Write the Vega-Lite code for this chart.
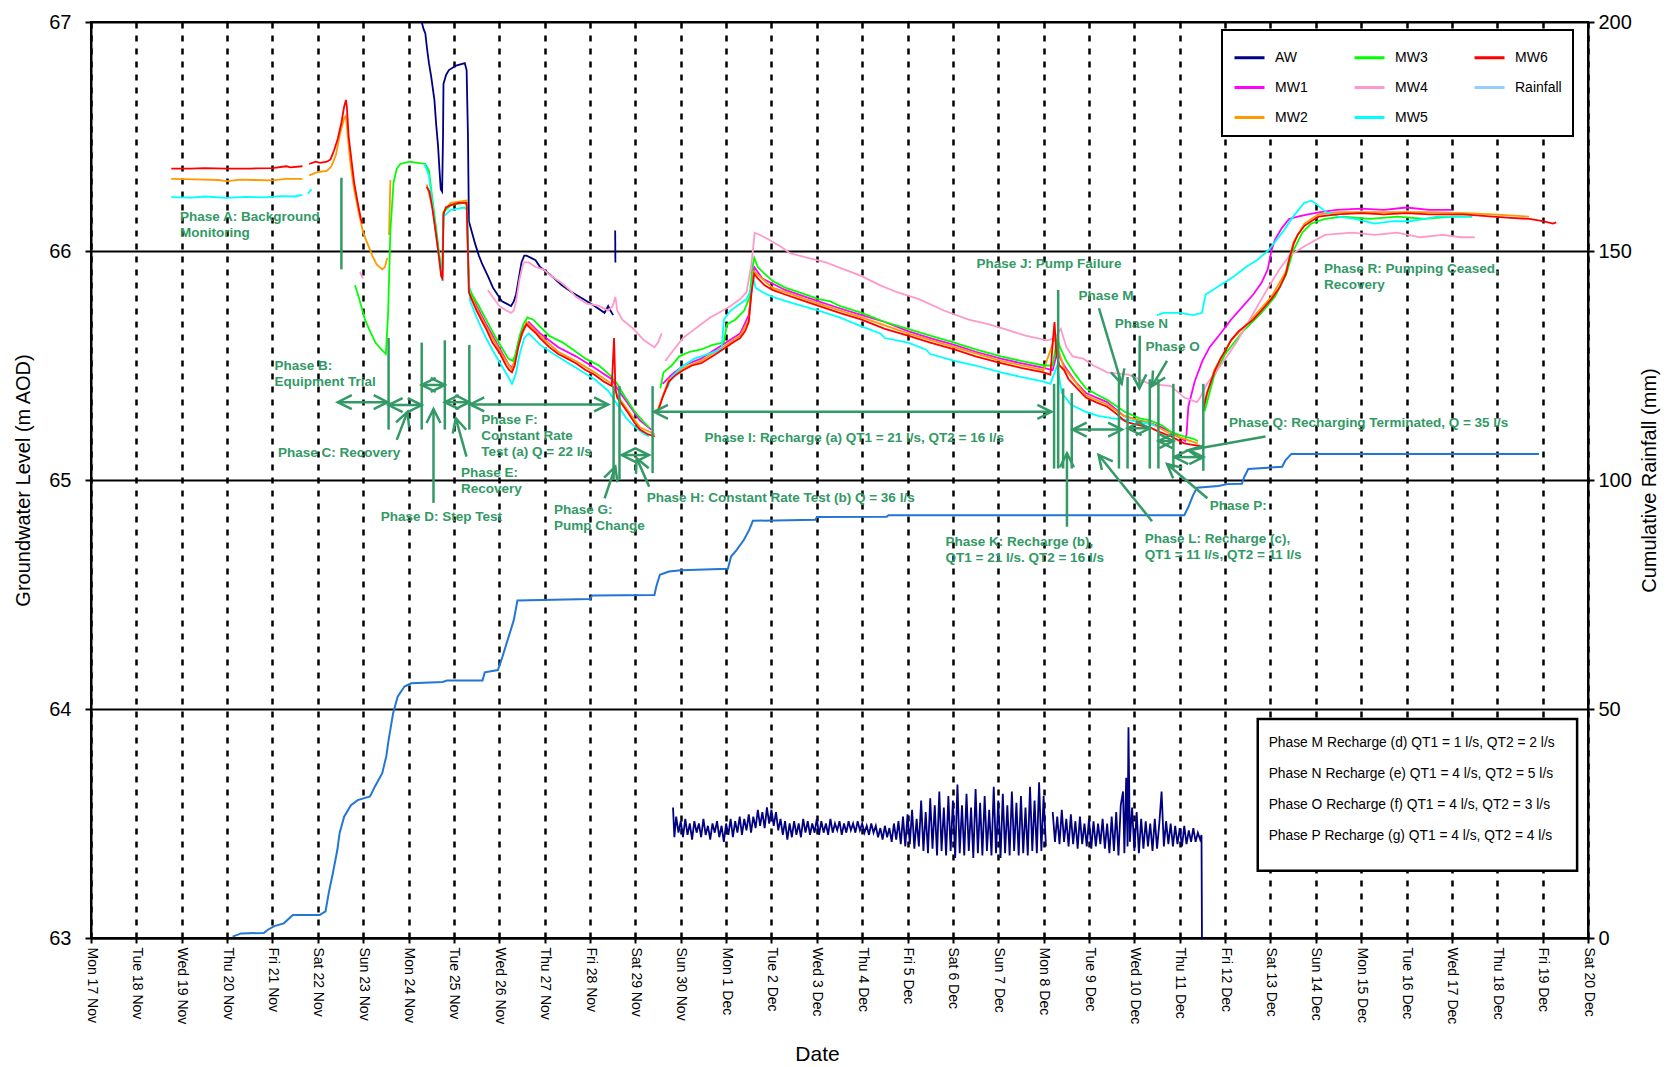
{
  "$schema": "https://vega.github.io/schema/vega-lite/v6.json",
  "width": 1497,
  "height": 916,
  "autosize": {"type": "none"},
  "padding": {"left": 91, "top": 22, "right": 83, "bottom": 129},
  "background": "white",
  "config": {
    "font": "Liberation Sans",
    "view": {"stroke": "black", "strokeWidth": 2},
    "axis": {
      "domainColor": "black", "domainWidth": 2, "tickColor": "black", "tickWidth": 2,
      "labelColor": "black", "titleColor": "black", "titleFontWeight": "normal",
      "labelFont": "Liberation Sans", "titleFont": "Liberation Sans",
      "labelFlush": false, "labelOverlap": false
    },
    "legend": {"strokeWidth": 2}
  },
  "datasets": {
    "rain": [
      {"day": 3.12, "mm": 0.3}, {"day": 3.31, "mm": 1.0}, {"day": 3.81, "mm": 1.1}, {"day": 3.9, "mm": 1.8},
      {"day": 4.04, "mm": 2.6}, {"day": 4.25, "mm": 3.2}, {"day": 4.45, "mm": 5.0}, {"day": 5.04, "mm": 5.0},
      {"day": 5.17, "mm": 5.8}, {"day": 5.24, "mm": 9.8}, {"day": 5.33, "mm": 14.1}, {"day": 5.43, "mm": 19.2},
      {"day": 5.48, "mm": 22.9}, {"day": 5.58, "mm": 26.5}, {"day": 5.73, "mm": 29.0}, {"day": 5.88, "mm": 30.1},
      {"day": 6.15, "mm": 30.9}, {"day": 6.26, "mm": 33.1}, {"day": 6.42, "mm": 36.0}, {"day": 6.51, "mm": 39.7},
      {"day": 6.56, "mm": 43.2}, {"day": 6.66, "mm": 49.1}, {"day": 6.76, "mm": 52.7}, {"day": 6.91, "mm": 54.9},
      {"day": 7.06, "mm": 55.6}, {"day": 7.75, "mm": 55.9}, {"day": 7.85, "mm": 56.2}, {"day": 8.63, "mm": 56.2},
      {"day": 8.68, "mm": 58.0}, {"day": 8.97, "mm": 58.5}, {"day": 9.07, "mm": 61.4}, {"day": 9.16, "mm": 64.3},
      {"day": 9.32, "mm": 69.4}, {"day": 9.4, "mm": 73.7}, {"day": 11.0, "mm": 74.0}, {"day": 11.05, "mm": 74.8},
      {"day": 12.42, "mm": 74.9}, {"day": 12.46, "mm": 76.7}, {"day": 12.54, "mm": 79.3}, {"day": 12.74, "mm": 80.0},
      {"day": 13.01, "mm": 80.3}, {"day": 14.04, "mm": 80.6}, {"day": 14.11, "mm": 83.3}, {"day": 14.23, "mm": 84.7},
      {"day": 14.39, "mm": 86.9}, {"day": 14.51, "mm": 89.1}, {"day": 14.59, "mm": 91.1}, {"day": 15.97, "mm": 91.3},
      {"day": 16.0, "mm": 91.9}, {"day": 17.54, "mm": 92.0}, {"day": 17.58, "mm": 92.3}, {"day": 24.1, "mm": 92.3},
      {"day": 24.19, "mm": 94.1}, {"day": 24.29, "mm": 96.6}, {"day": 24.38, "mm": 98.3}, {"day": 24.85, "mm": 98.7},
      {"day": 25.05, "mm": 99.1}, {"day": 25.37, "mm": 99.2}, {"day": 25.42, "mm": 100.6}, {"day": 25.51, "mm": 102.4},
      {"day": 26.26, "mm": 102.9}, {"day": 26.33, "mm": 104.3}, {"day": 26.46, "mm": 105.7}, {"day": 31.92, "mm": 105.7}
    ],
    "wells": [
      {"s": "AW", "g": 1, "day": 7.29, "v": 67.0}, {"s": "AW", "g": 1, "day": 7.33, "v": 66.97}, {"s": "AW", "g": 1, "day": 7.37, "v": 66.95},
      {"s": "AW", "g": 1, "day": 7.41, "v": 66.88}, {"s": "AW", "g": 1, "day": 7.45, "v": 66.82}, {"s": "AW", "g": 1, "day": 7.5, "v": 66.76},
      {"s": "AW", "g": 1, "day": 7.57, "v": 66.66}, {"s": "AW", "g": 1, "day": 7.61, "v": 66.55}, {"s": "AW", "g": 1, "day": 7.65, "v": 66.46},
      {"s": "AW", "g": 1, "day": 7.68, "v": 66.36}, {"s": "AW", "g": 1, "day": 7.71, "v": 66.27}, {"s": "AW", "g": 1, "day": 7.74, "v": 66.26},
      {"s": "AW", "g": 1, "day": 7.76, "v": 66.5}, {"s": "AW", "g": 1, "day": 7.77, "v": 66.73}, {"s": "AW", "g": 1, "day": 7.83, "v": 66.77},
      {"s": "AW", "g": 1, "day": 7.89, "v": 66.79}, {"s": "AW", "g": 1, "day": 8.05, "v": 66.81}, {"s": "AW", "g": 1, "day": 8.24, "v": 66.82},
      {"s": "AW", "g": 1, "day": 8.28, "v": 66.79}, {"s": "AW", "g": 1, "day": 8.31, "v": 66.5}, {"s": "AW", "g": 1, "day": 8.33, "v": 66.13},
      {"s": "AW", "g": 1, "day": 8.4, "v": 66.08}, {"s": "AW", "g": 1, "day": 8.47, "v": 66.03}, {"s": "AW", "g": 1, "day": 8.55, "v": 65.98},
      {"s": "AW", "g": 1, "day": 8.63, "v": 65.94}, {"s": "AW", "g": 1, "day": 8.75, "v": 65.89}, {"s": "AW", "g": 1, "day": 8.86, "v": 65.84},
      {"s": "AW", "g": 1, "day": 8.96, "v": 65.81}, {"s": "AW", "g": 1, "day": 9.06, "v": 65.78}, {"s": "AW", "g": 1, "day": 9.16, "v": 65.77},
      {"s": "AW", "g": 1, "day": 9.26, "v": 65.76}, {"s": "AW", "g": 1, "day": 9.32, "v": 65.78}, {"s": "AW", "g": 1, "day": 9.37, "v": 65.81},
      {"s": "AW", "g": 1, "day": 9.43, "v": 65.88}, {"s": "AW", "g": 1, "day": 9.49, "v": 65.95}, {"s": "AW", "g": 1, "day": 9.55, "v": 65.98},
      {"s": "AW", "g": 1, "day": 9.6, "v": 65.98}, {"s": "AW", "g": 1, "day": 9.7, "v": 65.97}, {"s": "AW", "g": 1, "day": 9.8, "v": 65.96},
      {"s": "AW", "g": 1, "day": 9.9, "v": 65.93}, {"s": "AW", "g": 1, "day": 10.1, "v": 65.9}, {"s": "AW", "g": 1, "day": 10.38, "v": 65.85},
      {"s": "AW", "g": 1, "day": 10.6, "v": 65.82}, {"s": "AW", "g": 1, "day": 10.85, "v": 65.79}, {"s": "AW", "g": 1, "day": 11.1, "v": 65.76},
      {"s": "AW", "g": 1, "day": 11.32, "v": 65.73}, {"s": "AW", "g": 1, "day": 11.4, "v": 65.76}, {"s": "AW", "g": 1, "day": 11.45, "v": 65.74},
      {"s": "AW", "g": 1, "day": 11.51, "v": 65.72},
      {"s": "AW", "g": 2, "day": 11.555, "v": 66.09}, {"s": "AW", "g": 2, "day": 11.56, "v": 65.95},
      {"s": "AW", "g": 3, "day": 12.83, "v": 63.57}, {"s": "AW", "g": 3, "day": 12.86, "v": 63.44}, {"s": "AW", "g": 3, "day": 12.9, "v": 63.53},
      {"s": "AW", "g": 3, "day": 12.95, "v": 63.46}, {"s": "AW", "g": 3, "day": 13.0, "v": 63.51}, {"s": "AW", "g": 3, "day": 13.05, "v": 63.44},
      {"s": "AW", "g": 3, "day": 13.1, "v": 63.52}, {"s": "AW", "g": 3, "day": 13.15, "v": 63.45}, {"s": "AW", "g": 3, "day": 13.2, "v": 63.5},
      {"s": "AW", "g": 3, "day": 13.25, "v": 63.43}, {"s": "AW", "g": 3, "day": 13.3, "v": 63.51}, {"s": "AW", "g": 3, "day": 13.35, "v": 63.46},
      {"s": "AW", "g": 3, "day": 13.4, "v": 63.5}, {"s": "AW", "g": 3, "day": 13.45, "v": 63.44}, {"s": "AW", "g": 3, "day": 13.5, "v": 63.52},
      {"s": "AW", "g": 3, "day": 13.55, "v": 63.45}, {"s": "AW", "g": 3, "day": 13.6, "v": 63.49}, {"s": "AW", "g": 3, "day": 13.65, "v": 63.43},
      {"s": "AW", "g": 3, "day": 13.7, "v": 63.5}, {"s": "AW", "g": 3, "day": 13.75, "v": 63.46}, {"s": "AW", "g": 3, "day": 13.8, "v": 63.51},
      {"s": "AW", "g": 3, "day": 13.85, "v": 63.44}, {"s": "AW", "g": 3, "day": 13.9, "v": 63.49}, {"s": "AW", "g": 3, "day": 13.95, "v": 63.42},
      {"s": "AW", "g": 3, "day": 14.0, "v": 63.5}, {"s": "AW", "g": 3, "day": 14.05, "v": 63.45}, {"s": "AW", "g": 3, "day": 14.1, "v": 63.52},
      {"s": "AW", "g": 3, "day": 14.15, "v": 63.44}, {"s": "AW", "g": 3, "day": 14.2, "v": 63.51}, {"s": "AW", "g": 3, "day": 14.25, "v": 63.46},
      {"s": "AW", "g": 3, "day": 14.3, "v": 63.53}, {"s": "AW", "g": 3, "day": 14.35, "v": 63.45}, {"s": "AW", "g": 3, "day": 14.4, "v": 63.52},
      {"s": "AW", "g": 3, "day": 14.45, "v": 63.47}, {"s": "AW", "g": 3, "day": 14.5, "v": 63.54}, {"s": "AW", "g": 3, "day": 14.55, "v": 63.46},
      {"s": "AW", "g": 3, "day": 14.6, "v": 63.53}, {"s": "AW", "g": 3, "day": 14.65, "v": 63.48}, {"s": "AW", "g": 3, "day": 14.7, "v": 63.56},
      {"s": "AW", "g": 3, "day": 14.75, "v": 63.49}, {"s": "AW", "g": 3, "day": 14.8, "v": 63.55}, {"s": "AW", "g": 3, "day": 14.85, "v": 63.48},
      {"s": "AW", "g": 3, "day": 14.9, "v": 63.57}, {"s": "AW", "g": 3, "day": 14.95, "v": 63.5}, {"s": "AW", "g": 3, "day": 15.0, "v": 63.56},
      {"s": "AW", "g": 3, "day": 15.05, "v": 63.49}, {"s": "AW", "g": 3, "day": 15.1, "v": 63.55}, {"s": "AW", "g": 3, "day": 15.15, "v": 63.47},
      {"s": "AW", "g": 3, "day": 15.2, "v": 63.52}, {"s": "AW", "g": 3, "day": 15.25, "v": 63.45}, {"s": "AW", "g": 3, "day": 15.3, "v": 63.51},
      {"s": "AW", "g": 3, "day": 15.35, "v": 63.43}, {"s": "AW", "g": 3, "day": 15.4, "v": 63.5}, {"s": "AW", "g": 3, "day": 15.45, "v": 63.44},
      {"s": "AW", "g": 3, "day": 15.5, "v": 63.51}, {"s": "AW", "g": 3, "day": 15.55, "v": 63.45}, {"s": "AW", "g": 3, "day": 15.6, "v": 63.5},
      {"s": "AW", "g": 3, "day": 15.65, "v": 63.44}, {"s": "AW", "g": 3, "day": 15.7, "v": 63.52}, {"s": "AW", "g": 3, "day": 15.75, "v": 63.46},
      {"s": "AW", "g": 3, "day": 15.8, "v": 63.51}, {"s": "AW", "g": 3, "day": 15.85, "v": 63.45}, {"s": "AW", "g": 3, "day": 15.9, "v": 63.5},
      {"s": "AW", "g": 3, "day": 15.95, "v": 63.46}, {"s": "AW", "g": 3, "day": 16.0, "v": 63.52}, {"s": "AW", "g": 3, "day": 16.05, "v": 63.45},
      {"s": "AW", "g": 3, "day": 16.1, "v": 63.51}, {"s": "AW", "g": 3, "day": 16.15, "v": 63.46}, {"s": "AW", "g": 3, "day": 16.2, "v": 63.5},
      {"s": "AW", "g": 3, "day": 16.25, "v": 63.45}, {"s": "AW", "g": 3, "day": 16.3, "v": 63.52}, {"s": "AW", "g": 3, "day": 16.35, "v": 63.46},
      {"s": "AW", "g": 3, "day": 16.4, "v": 63.5}, {"s": "AW", "g": 3, "day": 16.45, "v": 63.47}, {"s": "AW", "g": 3, "day": 16.5, "v": 63.51},
      {"s": "AW", "g": 3, "day": 16.55, "v": 63.45}, {"s": "AW", "g": 3, "day": 16.6, "v": 63.5}, {"s": "AW", "g": 3, "day": 16.65, "v": 63.46},
      {"s": "AW", "g": 3, "day": 16.7, "v": 63.51}, {"s": "AW", "g": 3, "day": 16.75, "v": 63.47}, {"s": "AW", "g": 3, "day": 16.8, "v": 63.5},
      {"s": "AW", "g": 3, "day": 16.85, "v": 63.46}, {"s": "AW", "g": 3, "day": 16.9, "v": 63.51}, {"s": "AW", "g": 3, "day": 16.95, "v": 63.47},
      {"s": "AW", "g": 3, "day": 17.0, "v": 63.5}, {"s": "AW", "g": 3, "day": 17.05, "v": 63.46}, {"s": "AW", "g": 3, "day": 17.1, "v": 63.49},
      {"s": "AW", "g": 3, "day": 17.15, "v": 63.45}, {"s": "AW", "g": 3, "day": 17.2, "v": 63.5}, {"s": "AW", "g": 3, "day": 17.25, "v": 63.46},
      {"s": "AW", "g": 3, "day": 17.3, "v": 63.49}, {"s": "AW", "g": 3, "day": 17.35, "v": 63.44}, {"s": "AW", "g": 3, "day": 17.4, "v": 63.48},
      {"s": "AW", "g": 3, "day": 17.45, "v": 63.43}, {"s": "AW", "g": 3, "day": 17.5, "v": 63.49}, {"s": "AW", "g": 3, "day": 17.55, "v": 63.44},
      {"s": "AW", "g": 3, "day": 17.6, "v": 63.48}, {"s": "AW", "g": 3, "day": 17.65, "v": 63.42}, {"s": "AW", "g": 3, "day": 17.7, "v": 63.5},
      {"s": "AW", "g": 3, "day": 17.75, "v": 63.43}, {"s": "AW", "g": 3, "day": 17.8, "v": 63.51}, {"s": "AW", "g": 3, "day": 17.85, "v": 63.41},
      {"s": "AW", "g": 3, "day": 17.9, "v": 63.53}, {"s": "AW", "g": 3, "day": 17.95, "v": 63.4}, {"s": "AW", "g": 3, "day": 18.0, "v": 63.54},
      {"s": "AW", "g": 3, "day": 18.05, "v": 63.41}, {"s": "AW", "g": 3, "day": 18.1, "v": 63.56}, {"s": "AW", "g": 3, "day": 18.15, "v": 63.39},
      {"s": "AW", "g": 3, "day": 18.2, "v": 63.52}, {"s": "AW", "g": 3, "day": 18.25, "v": 63.4}, {"s": "AW", "g": 3, "day": 18.3, "v": 63.6},
      {"s": "AW", "g": 3, "day": 18.35, "v": 63.38}, {"s": "AW", "g": 3, "day": 18.4, "v": 63.55}, {"s": "AW", "g": 3, "day": 18.45, "v": 63.37},
      {"s": "AW", "g": 3, "day": 18.5, "v": 63.61}, {"s": "AW", "g": 3, "day": 18.55, "v": 63.39}, {"s": "AW", "g": 3, "day": 18.6, "v": 63.58},
      {"s": "AW", "g": 3, "day": 18.65, "v": 63.36}, {"s": "AW", "g": 3, "day": 18.7, "v": 63.64}, {"s": "AW", "g": 3, "day": 18.75, "v": 63.38},
      {"s": "AW", "g": 3, "day": 18.8, "v": 63.57}, {"s": "AW", "g": 3, "day": 18.85, "v": 63.36}, {"s": "AW", "g": 3, "day": 18.9, "v": 63.62},
      {"s": "AW", "g": 3, "day": 18.95, "v": 63.38}, {"s": "AW", "g": 3, "day": 19.0, "v": 63.6}, {"s": "AW", "g": 3, "day": 19.05, "v": 63.35},
      {"s": "AW", "g": 3, "day": 19.1, "v": 63.67}, {"s": "AW", "g": 3, "day": 19.15, "v": 63.37}, {"s": "AW", "g": 3, "day": 19.2, "v": 63.58},
      {"s": "AW", "g": 3, "day": 19.25, "v": 63.36}, {"s": "AW", "g": 3, "day": 19.3, "v": 63.63}, {"s": "AW", "g": 3, "day": 19.35, "v": 63.38},
      {"s": "AW", "g": 3, "day": 19.4, "v": 63.57}, {"s": "AW", "g": 3, "day": 19.45, "v": 63.35}, {"s": "AW", "g": 3, "day": 19.5, "v": 63.65},
      {"s": "AW", "g": 3, "day": 19.55, "v": 63.37}, {"s": "AW", "g": 3, "day": 19.6, "v": 63.59}, {"s": "AW", "g": 3, "day": 19.65, "v": 63.36},
      {"s": "AW", "g": 3, "day": 19.7, "v": 63.62}, {"s": "AW", "g": 3, "day": 19.75, "v": 63.38}, {"s": "AW", "g": 3, "day": 19.8, "v": 63.56},
      {"s": "AW", "g": 3, "day": 19.85, "v": 63.36}, {"s": "AW", "g": 3, "day": 19.9, "v": 63.66}, {"s": "AW", "g": 3, "day": 19.95, "v": 63.37},
      {"s": "AW", "g": 3, "day": 20.0, "v": 63.6}, {"s": "AW", "g": 3, "day": 20.05, "v": 63.35}, {"s": "AW", "g": 3, "day": 20.1, "v": 63.63},
      {"s": "AW", "g": 3, "day": 20.15, "v": 63.37}, {"s": "AW", "g": 3, "day": 20.2, "v": 63.58}, {"s": "AW", "g": 3, "day": 20.25, "v": 63.36},
      {"s": "AW", "g": 3, "day": 20.3, "v": 63.64}, {"s": "AW", "g": 3, "day": 20.35, "v": 63.38}, {"s": "AW", "g": 3, "day": 20.4, "v": 63.59},
      {"s": "AW", "g": 3, "day": 20.45, "v": 63.36}, {"s": "AW", "g": 3, "day": 20.5, "v": 63.62}, {"s": "AW", "g": 3, "day": 20.55, "v": 63.37},
      {"s": "AW", "g": 3, "day": 20.6, "v": 63.57}, {"s": "AW", "g": 3, "day": 20.65, "v": 63.36}, {"s": "AW", "g": 3, "day": 20.7, "v": 63.66},
      {"s": "AW", "g": 3, "day": 20.75, "v": 63.38}, {"s": "AW", "g": 3, "day": 20.8, "v": 63.6}, {"s": "AW", "g": 3, "day": 20.85, "v": 63.37},
      {"s": "AW", "g": 3, "day": 20.9, "v": 63.68}, {"s": "AW", "g": 3, "day": 20.95, "v": 63.38}, {"s": "AW", "g": 3, "day": 21.0, "v": 63.62},
      {"s": "AW", "g": 3, "day": 21.05, "v": 63.4},
      {"s": "AW", "g": 4, "day": 21.2, "v": 63.55}, {"s": "AW", "g": 4, "day": 21.25, "v": 63.42}, {"s": "AW", "g": 4, "day": 21.3, "v": 63.53},
      {"s": "AW", "g": 4, "day": 21.35, "v": 63.41}, {"s": "AW", "g": 4, "day": 21.4, "v": 63.56}, {"s": "AW", "g": 4, "day": 21.45, "v": 63.42},
      {"s": "AW", "g": 4, "day": 21.5, "v": 63.52}, {"s": "AW", "g": 4, "day": 21.55, "v": 63.4}, {"s": "AW", "g": 4, "day": 21.6, "v": 63.54},
      {"s": "AW", "g": 4, "day": 21.65, "v": 63.41}, {"s": "AW", "g": 4, "day": 21.7, "v": 63.51}, {"s": "AW", "g": 4, "day": 21.75, "v": 63.39},
      {"s": "AW", "g": 4, "day": 21.8, "v": 63.53}, {"s": "AW", "g": 4, "day": 21.85, "v": 63.41}, {"s": "AW", "g": 4, "day": 21.9, "v": 63.5},
      {"s": "AW", "g": 4, "day": 21.95, "v": 63.4}, {"s": "AW", "g": 4, "day": 22.0, "v": 63.52}, {"s": "AW", "g": 4, "day": 22.05, "v": 63.39},
      {"s": "AW", "g": 4, "day": 22.1, "v": 63.51}, {"s": "AW", "g": 4, "day": 22.15, "v": 63.4}, {"s": "AW", "g": 4, "day": 22.2, "v": 63.5},
      {"s": "AW", "g": 4, "day": 22.25, "v": 63.41}, {"s": "AW", "g": 4, "day": 22.3, "v": 63.52}, {"s": "AW", "g": 4, "day": 22.35, "v": 63.39},
      {"s": "AW", "g": 4, "day": 22.4, "v": 63.5}, {"s": "AW", "g": 4, "day": 22.45, "v": 63.37}, {"s": "AW", "g": 4, "day": 22.5, "v": 63.53},
      {"s": "AW", "g": 4, "day": 22.55, "v": 63.38}, {"s": "AW", "g": 4, "day": 22.6, "v": 63.55}, {"s": "AW", "g": 4, "day": 22.65, "v": 63.36},
      {"s": "AW", "g": 4, "day": 22.7, "v": 63.58}, {"s": "AW", "g": 4, "day": 22.75, "v": 63.64}, {"s": "AW", "g": 4, "day": 22.78, "v": 63.37},
      {"s": "AW", "g": 4, "day": 22.82, "v": 63.7}, {"s": "AW", "g": 4, "day": 22.85, "v": 63.4}, {"s": "AW", "g": 4, "day": 22.87, "v": 63.92},
      {"s": "AW", "g": 4, "day": 22.9, "v": 63.42}, {"s": "AW", "g": 4, "day": 22.95, "v": 63.57}, {"s": "AW", "g": 4, "day": 23.0, "v": 63.38},
      {"s": "AW", "g": 4, "day": 23.05, "v": 63.55}, {"s": "AW", "g": 4, "day": 23.1, "v": 63.37}, {"s": "AW", "g": 4, "day": 23.15, "v": 63.52},
      {"s": "AW", "g": 4, "day": 23.2, "v": 63.39}, {"s": "AW", "g": 4, "day": 23.25, "v": 63.51}, {"s": "AW", "g": 4, "day": 23.3, "v": 63.4},
      {"s": "AW", "g": 4, "day": 23.35, "v": 63.5}, {"s": "AW", "g": 4, "day": 23.4, "v": 63.38}, {"s": "AW", "g": 4, "day": 23.45, "v": 63.52},
      {"s": "AW", "g": 4, "day": 23.5, "v": 63.39}, {"s": "AW", "g": 4, "day": 23.55, "v": 63.5}, {"s": "AW", "g": 4, "day": 23.6, "v": 63.64},
      {"s": "AW", "g": 4, "day": 23.65, "v": 63.4}, {"s": "AW", "g": 4, "day": 23.7, "v": 63.51}, {"s": "AW", "g": 4, "day": 23.75, "v": 63.41},
      {"s": "AW", "g": 4, "day": 23.8, "v": 63.5}, {"s": "AW", "g": 4, "day": 23.85, "v": 63.4}, {"s": "AW", "g": 4, "day": 23.9, "v": 63.49},
      {"s": "AW", "g": 4, "day": 23.95, "v": 63.41}, {"s": "AW", "g": 4, "day": 24.0, "v": 63.48}, {"s": "AW", "g": 4, "day": 24.05, "v": 63.4},
      {"s": "AW", "g": 4, "day": 24.1, "v": 63.49}, {"s": "AW", "g": 4, "day": 24.15, "v": 63.41}, {"s": "AW", "g": 4, "day": 24.2, "v": 63.47},
      {"s": "AW", "g": 4, "day": 24.25, "v": 63.42}, {"s": "AW", "g": 4, "day": 24.3, "v": 63.48}, {"s": "AW", "g": 4, "day": 24.35, "v": 63.42},
      {"s": "AW", "g": 4, "day": 24.4, "v": 63.46}, {"s": "AW", "g": 4, "day": 24.45, "v": 63.43}, {"s": "AW", "g": 4, "day": 24.48, "v": 63.45},
      {"s": "AW", "g": 4, "day": 24.49, "v": 63.0},

      {"s": "MW1", "g": 1, "day": 8.35, "v": 65.83}, {"s": "MW1", "g": 1, "day": 8.5, "v": 65.76}, {"s": "MW1", "g": 1, "day": 8.71, "v": 65.68},
      {"s": "MW1", "g": 1, "day": 9.02, "v": 65.57}, {"s": "MW1", "g": 1, "day": 9.22, "v": 65.5}, {"s": "MW1", "g": 1, "day": 9.3, "v": 65.49},
      {"s": "MW1", "g": 1, "day": 9.42, "v": 65.6}, {"s": "MW1", "g": 1, "day": 9.55, "v": 65.67}, {"s": "MW1", "g": 1, "day": 9.65, "v": 65.69},
      {"s": "MW1", "g": 1, "day": 9.9, "v": 65.64}, {"s": "MW1", "g": 1, "day": 10.3, "v": 65.58}, {"s": "MW1", "g": 1, "day": 10.69, "v": 65.54},
      {"s": "MW1", "g": 1, "day": 11.1, "v": 65.49}, {"s": "MW1", "g": 1, "day": 11.48, "v": 65.44}, {"s": "MW1", "g": 1, "day": 11.6, "v": 65.4},
      {"s": "MW1", "g": 1, "day": 11.85, "v": 65.33}, {"s": "MW1", "g": 1, "day": 12.1, "v": 65.26}, {"s": "MW1", "g": 1, "day": 12.35, "v": 65.22},
      {"s": "MW1", "g": 2, "day": 12.6, "v": 65.42}, {"s": "MW1", "g": 2, "day": 12.8, "v": 65.46}, {"s": "MW1", "g": 2, "day": 13.06, "v": 65.5},
      {"s": "MW1", "g": 2, "day": 13.45, "v": 65.53}, {"s": "MW1", "g": 2, "day": 14.0, "v": 65.6}, {"s": "MW1", "g": 2, "day": 14.31, "v": 65.64},
      {"s": "MW1", "g": 2, "day": 14.5, "v": 65.72}, {"s": "MW1", "g": 2, "day": 14.58, "v": 65.86}, {"s": "MW1", "g": 2, "day": 14.62, "v": 65.93},
      {"s": "MW1", "g": 2, "day": 14.8, "v": 65.88}, {"s": "MW1", "g": 2, "day": 15.3, "v": 65.83}, {"s": "MW1", "g": 2, "day": 16.04, "v": 65.78},
      {"s": "MW1", "g": 2, "day": 16.5, "v": 65.75}, {"s": "MW1", "g": 2, "day": 16.99, "v": 65.72}, {"s": "MW1", "g": 2, "day": 17.5, "v": 65.69},
      {"s": "MW1", "g": 2, "day": 18.01, "v": 65.65}, {"s": "MW1", "g": 2, "day": 18.5, "v": 65.62}, {"s": "MW1", "g": 2, "day": 19.03, "v": 65.59},
      {"s": "MW1", "g": 2, "day": 19.5, "v": 65.56}, {"s": "MW1", "g": 2, "day": 20.06, "v": 65.53}, {"s": "MW1", "g": 2, "day": 20.5, "v": 65.51},
      {"s": "MW1", "g": 2, "day": 21.0, "v": 65.49}, {"s": "MW1", "g": 2, "day": 21.2, "v": 65.48}, {"s": "MW1", "g": 2, "day": 21.3, "v": 65.56},
      {"s": "MW1", "g": 2, "day": 21.45, "v": 65.5}, {"s": "MW1", "g": 2, "day": 21.7, "v": 65.43}, {"s": "MW1", "g": 2, "day": 21.93, "v": 65.38},
      {"s": "MW1", "g": 2, "day": 22.4, "v": 65.34}, {"s": "MW1", "g": 2, "day": 22.77, "v": 65.28}, {"s": "MW1", "g": 2, "day": 23.1, "v": 65.26},
      {"s": "MW1", "g": 2, "day": 23.34, "v": 65.25}, {"s": "MW1", "g": 2, "day": 23.6, "v": 65.23}, {"s": "MW1", "g": 2, "day": 23.81, "v": 65.21},
      {"s": "MW1", "g": 2, "day": 24.05, "v": 65.18}, {"s": "MW1", "g": 2, "day": 24.12, "v": 65.17}, {"s": "MW1", "g": 2, "day": 24.15, "v": 65.2},
      {"s": "MW1", "g": 2, "day": 24.19, "v": 65.32}, {"s": "MW1", "g": 2, "day": 24.33, "v": 65.43}, {"s": "MW1", "g": 2, "day": 24.5, "v": 65.52},
      {"s": "MW1", "g": 2, "day": 24.66, "v": 65.58}, {"s": "MW1", "g": 2, "day": 24.9, "v": 65.64}, {"s": "MW1", "g": 2, "day": 25.13, "v": 65.7},
      {"s": "MW1", "g": 2, "day": 25.4, "v": 65.76}, {"s": "MW1", "g": 2, "day": 25.62, "v": 65.81}, {"s": "MW1", "g": 2, "day": 25.8, "v": 65.86},
      {"s": "MW1", "g": 2, "day": 25.94, "v": 65.92}, {"s": "MW1", "g": 2, "day": 26.02, "v": 66.0}, {"s": "MW1", "g": 2, "day": 26.1, "v": 66.05},
      {"s": "MW1", "g": 2, "day": 26.25, "v": 66.1}, {"s": "MW1", "g": 2, "day": 26.41, "v": 66.14}, {"s": "MW1", "g": 2, "day": 26.6, "v": 66.15},
      {"s": "MW1", "g": 2, "day": 26.83, "v": 66.16}, {"s": "MW1", "g": 2, "day": 27.1, "v": 66.17}, {"s": "MW1", "g": 2, "day": 27.46, "v": 66.18},
      {"s": "MW1", "g": 2, "day": 28.0, "v": 66.185}, {"s": "MW1", "g": 2, "day": 28.5, "v": 66.18}, {"s": "MW1", "g": 2, "day": 29.0, "v": 66.19},
      {"s": "MW1", "g": 2, "day": 29.5, "v": 66.18}, {"s": "MW1", "g": 2, "day": 29.99, "v": 66.18},

      {"s": "MW2", "g": 1, "day": 1.77, "v": 66.315}, {"s": "MW2", "g": 1, "day": 2.3, "v": 66.313}, {"s": "MW2", "g": 1, "day": 2.8, "v": 66.31},
      {"s": "MW2", "g": 1, "day": 3.0, "v": 66.305}, {"s": "MW2", "g": 1, "day": 3.3, "v": 66.312}, {"s": "MW2", "g": 1, "day": 3.6, "v": 66.31},
      {"s": "MW2", "g": 1, "day": 4.0, "v": 66.308}, {"s": "MW2", "g": 1, "day": 4.3, "v": 66.315}, {"s": "MW2", "g": 1, "day": 4.66, "v": 66.315},
      {"s": "MW2", "g": 2, "day": 4.81, "v": 66.33}, {"s": "MW2", "g": 2, "day": 5.0, "v": 66.345}, {"s": "MW2", "g": 2, "day": 5.2, "v": 66.35},
      {"s": "MW2", "g": 2, "day": 5.3, "v": 66.37}, {"s": "MW2", "g": 2, "day": 5.4, "v": 66.42}, {"s": "MW2", "g": 2, "day": 5.5, "v": 66.52},
      {"s": "MW2", "g": 2, "day": 5.58, "v": 66.58}, {"s": "MW2", "g": 2, "day": 5.62, "v": 66.59}, {"s": "MW2", "g": 2, "day": 5.66, "v": 66.5},
      {"s": "MW2", "g": 2, "day": 5.72, "v": 66.38}, {"s": "MW2", "g": 2, "day": 5.8, "v": 66.27}, {"s": "MW2", "g": 2, "day": 5.9, "v": 66.17},
      {"s": "MW2", "g": 2, "day": 6.0, "v": 66.08}, {"s": "MW2", "g": 2, "day": 6.1, "v": 66.03}, {"s": "MW2", "g": 2, "day": 6.2, "v": 65.98},
      {"s": "MW2", "g": 2, "day": 6.3, "v": 65.94}, {"s": "MW2", "g": 2, "day": 6.42, "v": 65.92}, {"s": "MW2", "g": 2, "day": 6.48, "v": 65.93},
      {"s": "MW2", "g": 2, "day": 6.53, "v": 65.97},
      {"s": "MW2", "g": 3, "day": 6.57, "v": 66.07}, {"s": "MW2", "g": 3, "day": 6.6, "v": 66.31},
      {"s": "MW2", "g": 4, "day": 7.4, "v": 66.29}, {"s": "MW2", "g": 4, "day": 7.53, "v": 66.19}, {"s": "MW2", "g": 4, "day": 7.66, "v": 66.0},
      {"s": "MW2", "g": 4, "day": 7.75, "v": 65.89}, {"s": "MW2", "g": 4, "day": 7.77, "v": 66.17}, {"s": "MW2", "g": 4, "day": 7.93, "v": 66.21},
      {"s": "MW2", "g": 4, "day": 8.28, "v": 66.22}, {"s": "MW2", "g": 4, "day": 8.33, "v": 65.83}, {"s": "MW2", "g": 4, "day": 8.5, "v": 65.75},
      {"s": "MW2", "g": 4, "day": 8.71, "v": 65.67}, {"s": "MW2", "g": 4, "day": 9.02, "v": 65.56}, {"s": "MW2", "g": 4, "day": 9.28, "v": 65.48},
      {"s": "MW2", "g": 4, "day": 9.42, "v": 65.59}, {"s": "MW2", "g": 4, "day": 9.6, "v": 65.69}, {"s": "MW2", "g": 4, "day": 9.9, "v": 65.63},
      {"s": "MW2", "g": 4, "day": 10.3, "v": 65.56}, {"s": "MW2", "g": 4, "day": 10.69, "v": 65.52}, {"s": "MW2", "g": 4, "day": 11.1, "v": 65.47},
      {"s": "MW2", "g": 4, "day": 11.48, "v": 65.42}, {"s": "MW2", "g": 4, "day": 11.6, "v": 65.37}, {"s": "MW2", "g": 4, "day": 11.85, "v": 65.3},
      {"s": "MW2", "g": 4, "day": 12.1, "v": 65.23}, {"s": "MW2", "g": 4, "day": 12.43, "v": 65.2},
      {"s": "MW2", "g": 5, "day": 12.5, "v": 65.31}, {"s": "MW2", "g": 5, "day": 12.74, "v": 65.44}, {"s": "MW2", "g": 5, "day": 13.06, "v": 65.49},
      {"s": "MW2", "g": 5, "day": 13.45, "v": 65.52}, {"s": "MW2", "g": 5, "day": 14.0, "v": 65.59}, {"s": "MW2", "g": 5, "day": 14.31, "v": 65.63},
      {"s": "MW2", "g": 5, "day": 14.5, "v": 65.7}, {"s": "MW2", "g": 5, "day": 14.56, "v": 65.83}, {"s": "MW2", "g": 5, "day": 14.62, "v": 65.91},
      {"s": "MW2", "g": 5, "day": 15.02, "v": 65.84}, {"s": "MW2", "g": 5, "day": 16.04, "v": 65.77}, {"s": "MW2", "g": 5, "day": 16.99, "v": 65.71},
      {"s": "MW2", "g": 5, "day": 18.01, "v": 65.64}, {"s": "MW2", "g": 5, "day": 19.03, "v": 65.58}, {"s": "MW2", "g": 5, "day": 20.06, "v": 65.52},
      {"s": "MW2", "g": 5, "day": 21.0, "v": 65.48}, {"s": "MW2", "g": 5, "day": 21.24, "v": 65.62}, {"s": "MW2", "g": 5, "day": 21.45, "v": 65.49},
      {"s": "MW2", "g": 5, "day": 21.93, "v": 65.37}, {"s": "MW2", "g": 5, "day": 22.4, "v": 65.33}, {"s": "MW2", "g": 5, "day": 22.77, "v": 65.28},
      {"s": "MW2", "g": 5, "day": 23.1, "v": 65.26}, {"s": "MW2", "g": 5, "day": 23.34, "v": 65.25}, {"s": "MW2", "g": 5, "day": 23.81, "v": 65.2},
      {"s": "MW2", "g": 5, "day": 24.1, "v": 65.18}, {"s": "MW2", "g": 5, "day": 24.4, "v": 65.16},
      {"s": "MW2", "g": 6, "day": 24.52, "v": 65.31}, {"s": "MW2", "g": 6, "day": 24.76, "v": 65.48}, {"s": "MW2", "g": 6, "day": 25.13, "v": 65.61},
      {"s": "MW2", "g": 6, "day": 25.62, "v": 65.71}, {"s": "MW2", "g": 6, "day": 26.02, "v": 65.8}, {"s": "MW2", "g": 6, "day": 26.34, "v": 65.91},
      {"s": "MW2", "g": 6, "day": 26.51, "v": 66.04}, {"s": "MW2", "g": 6, "day": 26.75, "v": 66.12}, {"s": "MW2", "g": 6, "day": 27.06, "v": 66.16},
      {"s": "MW2", "g": 6, "day": 27.5, "v": 66.17}, {"s": "MW2", "g": 6, "day": 28.5, "v": 66.17}, {"s": "MW2", "g": 6, "day": 29.5, "v": 66.17},
      {"s": "MW2", "g": 6, "day": 30.3, "v": 66.165}, {"s": "MW2", "g": 6, "day": 30.9, "v": 66.16}, {"s": "MW2", "g": 6, "day": 31.7, "v": 66.15},

      {"s": "MW3", "g": 1, "day": 5.82, "v": 65.85}, {"s": "MW3", "g": 1, "day": 5.9, "v": 65.8}, {"s": "MW3", "g": 1, "day": 6.04, "v": 65.7},
      {"s": "MW3", "g": 1, "day": 6.15, "v": 65.65}, {"s": "MW3", "g": 1, "day": 6.27, "v": 65.6}, {"s": "MW3", "g": 1, "day": 6.4, "v": 65.57},
      {"s": "MW3", "g": 1, "day": 6.5, "v": 65.55}, {"s": "MW3", "g": 1, "day": 6.55, "v": 65.73}, {"s": "MW3", "g": 1, "day": 6.6, "v": 66.09},
      {"s": "MW3", "g": 1, "day": 6.67, "v": 66.3}, {"s": "MW3", "g": 1, "day": 6.74, "v": 66.36}, {"s": "MW3", "g": 1, "day": 6.82, "v": 66.38},
      {"s": "MW3", "g": 1, "day": 7.02, "v": 66.39}, {"s": "MW3", "g": 1, "day": 7.2, "v": 66.385}, {"s": "MW3", "g": 1, "day": 7.37, "v": 66.38},
      {"s": "MW3", "g": 1, "day": 7.45, "v": 66.35}, {"s": "MW3", "g": 1, "day": 7.53, "v": 66.22}, {"s": "MW3", "g": 1, "day": 7.62, "v": 66.08},
      {"s": "MW3", "g": 1, "day": 7.69, "v": 65.96}, {"s": "MW3", "g": 1, "day": 7.74, "v": 65.88}, {"s": "MW3", "g": 1, "day": 7.77, "v": 66.17},
      {"s": "MW3", "g": 1, "day": 7.93, "v": 66.2}, {"s": "MW3", "g": 1, "day": 8.23, "v": 66.21}, {"s": "MW3", "g": 1, "day": 8.29, "v": 66.2},
      {"s": "MW3", "g": 1, "day": 8.31, "v": 65.98}, {"s": "MW3", "g": 1, "day": 8.34, "v": 65.84}, {"s": "MW3", "g": 1, "day": 8.4, "v": 65.81},
      {"s": "MW3", "g": 1, "day": 8.55, "v": 65.76}, {"s": "MW3", "g": 1, "day": 8.71, "v": 65.7}, {"s": "MW3", "g": 1, "day": 8.9, "v": 65.63},
      {"s": "MW3", "g": 1, "day": 9.05, "v": 65.58}, {"s": "MW3", "g": 1, "day": 9.2, "v": 65.53}, {"s": "MW3", "g": 1, "day": 9.3, "v": 65.52},
      {"s": "MW3", "g": 1, "day": 9.36, "v": 65.55}, {"s": "MW3", "g": 1, "day": 9.45, "v": 65.63}, {"s": "MW3", "g": 1, "day": 9.53, "v": 65.68},
      {"s": "MW3", "g": 1, "day": 9.62, "v": 65.71}, {"s": "MW3", "g": 1, "day": 9.75, "v": 65.7}, {"s": "MW3", "g": 1, "day": 9.9, "v": 65.67},
      {"s": "MW3", "g": 1, "day": 10.1, "v": 65.63}, {"s": "MW3", "g": 1, "day": 10.4, "v": 65.6}, {"s": "MW3", "g": 1, "day": 10.69, "v": 65.56},
      {"s": "MW3", "g": 1, "day": 10.9, "v": 65.53}, {"s": "MW3", "g": 1, "day": 11.2, "v": 65.5}, {"s": "MW3", "g": 1, "day": 11.48, "v": 65.45},
      {"s": "MW3", "g": 1, "day": 11.6, "v": 65.42}, {"s": "MW3", "g": 1, "day": 11.75, "v": 65.37}, {"s": "MW3", "g": 1, "day": 11.98, "v": 65.3},
      {"s": "MW3", "g": 1, "day": 12.2, "v": 65.25}, {"s": "MW3", "g": 1, "day": 12.3, "v": 65.23},
      {"s": "MW3", "g": 2, "day": 12.55, "v": 65.4}, {"s": "MW3", "g": 2, "day": 12.62, "v": 65.47}, {"s": "MW3", "g": 2, "day": 12.8, "v": 65.5},
      {"s": "MW3", "g": 2, "day": 12.97, "v": 65.54}, {"s": "MW3", "g": 2, "day": 13.2, "v": 65.56}, {"s": "MW3", "g": 2, "day": 13.45, "v": 65.57},
      {"s": "MW3", "g": 2, "day": 13.7, "v": 65.59}, {"s": "MW3", "g": 2, "day": 13.95, "v": 65.6}, {"s": "MW3", "g": 2, "day": 14.02, "v": 65.68},
      {"s": "MW3", "g": 2, "day": 14.2, "v": 65.7}, {"s": "MW3", "g": 2, "day": 14.4, "v": 65.74}, {"s": "MW3", "g": 2, "day": 14.52, "v": 65.8},
      {"s": "MW3", "g": 2, "day": 14.58, "v": 65.93}, {"s": "MW3", "g": 2, "day": 14.62, "v": 65.97}, {"s": "MW3", "g": 2, "day": 14.7, "v": 65.93},
      {"s": "MW3", "g": 2, "day": 14.85, "v": 65.9}, {"s": "MW3", "g": 2, "day": 15.02, "v": 65.87}, {"s": "MW3", "g": 2, "day": 15.3, "v": 65.84},
      {"s": "MW3", "g": 2, "day": 15.6, "v": 65.82}, {"s": "MW3", "g": 2, "day": 16.04, "v": 65.79}, {"s": "MW3", "g": 2, "day": 16.3, "v": 65.78},
      {"s": "MW3", "g": 2, "day": 16.5, "v": 65.76}, {"s": "MW3", "g": 2, "day": 16.99, "v": 65.73}, {"s": "MW3", "g": 2, "day": 17.5, "v": 65.69},
      {"s": "MW3", "g": 2, "day": 18.01, "v": 65.66}, {"s": "MW3", "g": 2, "day": 18.5, "v": 65.63}, {"s": "MW3", "g": 2, "day": 19.03, "v": 65.6},
      {"s": "MW3", "g": 2, "day": 19.5, "v": 65.57}, {"s": "MW3", "g": 2, "day": 20.06, "v": 65.54}, {"s": "MW3", "g": 2, "day": 20.5, "v": 65.52},
      {"s": "MW3", "g": 2, "day": 21.0, "v": 65.5}, {"s": "MW3", "g": 2, "day": 21.2, "v": 65.5}, {"s": "MW3", "g": 2, "day": 21.3, "v": 65.62},
      {"s": "MW3", "g": 2, "day": 21.36, "v": 65.58}, {"s": "MW3", "g": 2, "day": 21.5, "v": 65.52}, {"s": "MW3", "g": 2, "day": 21.7, "v": 65.46},
      {"s": "MW3", "g": 2, "day": 21.93, "v": 65.4}, {"s": "MW3", "g": 2, "day": 22.2, "v": 65.37}, {"s": "MW3", "g": 2, "day": 22.4, "v": 65.35},
      {"s": "MW3", "g": 2, "day": 22.77, "v": 65.3}, {"s": "MW3", "g": 2, "day": 23.1, "v": 65.27}, {"s": "MW3", "g": 2, "day": 23.34, "v": 65.26},
      {"s": "MW3", "g": 2, "day": 23.6, "v": 65.24}, {"s": "MW3", "g": 2, "day": 23.81, "v": 65.21}, {"s": "MW3", "g": 2, "day": 24.1, "v": 65.19},
      {"s": "MW3", "g": 2, "day": 24.3, "v": 65.18}, {"s": "MW3", "g": 2, "day": 24.4, "v": 65.17},
      {"s": "MW3", "g": 3, "day": 24.55, "v": 65.3}, {"s": "MW3", "g": 3, "day": 24.75, "v": 65.45}, {"s": "MW3", "g": 3, "day": 25.0, "v": 65.55},
      {"s": "MW3", "g": 3, "day": 25.4, "v": 65.65}, {"s": "MW3", "g": 3, "day": 25.8, "v": 65.73}, {"s": "MW3", "g": 3, "day": 26.1, "v": 65.8},
      {"s": "MW3", "g": 3, "day": 26.35, "v": 65.9}, {"s": "MW3", "g": 3, "day": 26.5, "v": 66.0}, {"s": "MW3", "g": 3, "day": 26.7, "v": 66.08},
      {"s": "MW3", "g": 3, "day": 26.9, "v": 66.12}, {"s": "MW3", "g": 3, "day": 27.2, "v": 66.14}, {"s": "MW3", "g": 3, "day": 27.6, "v": 66.15},
      {"s": "MW3", "g": 3, "day": 28.2, "v": 66.14}, {"s": "MW3", "g": 3, "day": 28.8, "v": 66.15}, {"s": "MW3", "g": 3, "day": 29.4, "v": 66.14},
      {"s": "MW3", "g": 3, "day": 30.0, "v": 66.15}, {"s": "MW3", "g": 3, "day": 30.45, "v": 66.15},

      {"s": "MW4", "g": 1, "day": 5.93, "v": 65.91}, {"s": "MW4", "g": 1, "day": 5.97, "v": 65.89}, {"s": "MW4", "g": 1, "day": 6.0, "v": 65.88},
      {"s": "MW4", "g": 2, "day": 8.75, "v": 65.83}, {"s": "MW4", "g": 2, "day": 8.85, "v": 65.8}, {"s": "MW4", "g": 2, "day": 9.0, "v": 65.76},
      {"s": "MW4", "g": 2, "day": 9.15, "v": 65.74}, {"s": "MW4", "g": 2, "day": 9.26, "v": 65.73}, {"s": "MW4", "g": 2, "day": 9.32, "v": 65.74},
      {"s": "MW4", "g": 2, "day": 9.37, "v": 65.78}, {"s": "MW4", "g": 2, "day": 9.45, "v": 65.88}, {"s": "MW4", "g": 2, "day": 9.53, "v": 65.95},
      {"s": "MW4", "g": 2, "day": 9.65, "v": 65.95}, {"s": "MW4", "g": 2, "day": 9.8, "v": 65.93}, {"s": "MW4", "g": 2, "day": 9.97, "v": 65.92},
      {"s": "MW4", "g": 2, "day": 10.15, "v": 65.89}, {"s": "MW4", "g": 2, "day": 10.38, "v": 65.86}, {"s": "MW4", "g": 2, "day": 10.55, "v": 65.83},
      {"s": "MW4", "g": 2, "day": 10.69, "v": 65.8}, {"s": "MW4", "g": 2, "day": 10.93, "v": 65.77}, {"s": "MW4", "g": 2, "day": 11.2, "v": 65.76},
      {"s": "MW4", "g": 2, "day": 11.4, "v": 65.74}, {"s": "MW4", "g": 2, "day": 11.5, "v": 65.76}, {"s": "MW4", "g": 2, "day": 11.56, "v": 65.8},
      {"s": "MW4", "g": 2, "day": 11.6, "v": 65.74}, {"s": "MW4", "g": 2, "day": 11.71, "v": 65.7}, {"s": "MW4", "g": 2, "day": 11.96, "v": 65.66},
      {"s": "MW4", "g": 2, "day": 12.19, "v": 65.61}, {"s": "MW4", "g": 2, "day": 12.42, "v": 65.58}, {"s": "MW4", "g": 2, "day": 12.5, "v": 65.6},
      {"s": "MW4", "g": 2, "day": 12.58, "v": 65.64},
      {"s": "MW4", "g": 3, "day": 12.66, "v": 65.52}, {"s": "MW4", "g": 3, "day": 12.85, "v": 65.57}, {"s": "MW4", "g": 3, "day": 13.05, "v": 65.62},
      {"s": "MW4", "g": 3, "day": 13.25, "v": 65.65}, {"s": "MW4", "g": 3, "day": 13.45, "v": 65.68}, {"s": "MW4", "g": 3, "day": 13.65, "v": 65.71},
      {"s": "MW4", "g": 3, "day": 13.84, "v": 65.73}, {"s": "MW4", "g": 3, "day": 14.1, "v": 65.76}, {"s": "MW4", "g": 3, "day": 14.31, "v": 65.79},
      {"s": "MW4", "g": 3, "day": 14.45, "v": 65.82}, {"s": "MW4", "g": 3, "day": 14.55, "v": 65.93}, {"s": "MW4", "g": 3, "day": 14.6, "v": 66.02},
      {"s": "MW4", "g": 3, "day": 14.63, "v": 66.08}, {"s": "MW4", "g": 3, "day": 14.75, "v": 66.07}, {"s": "MW4", "g": 3, "day": 14.94, "v": 66.05},
      {"s": "MW4", "g": 3, "day": 15.2, "v": 66.02}, {"s": "MW4", "g": 3, "day": 15.41, "v": 65.99}, {"s": "MW4", "g": 3, "day": 15.8, "v": 65.97},
      {"s": "MW4", "g": 3, "day": 16.2, "v": 65.95}, {"s": "MW4", "g": 3, "day": 16.6, "v": 65.92}, {"s": "MW4", "g": 3, "day": 16.99, "v": 65.89},
      {"s": "MW4", "g": 3, "day": 17.4, "v": 65.85}, {"s": "MW4", "g": 3, "day": 17.77, "v": 65.82}, {"s": "MW4", "g": 3, "day": 18.25, "v": 65.79},
      {"s": "MW4", "g": 3, "day": 18.8, "v": 65.74}, {"s": "MW4", "g": 3, "day": 19.35, "v": 65.7}, {"s": "MW4", "g": 3, "day": 19.8, "v": 65.68},
      {"s": "MW4", "g": 3, "day": 20.13, "v": 65.66}, {"s": "MW4", "g": 3, "day": 20.6, "v": 65.63}, {"s": "MW4", "g": 3, "day": 21.08, "v": 65.61},
      {"s": "MW4", "g": 3, "day": 21.25, "v": 65.62}, {"s": "MW4", "g": 3, "day": 21.38, "v": 65.66}, {"s": "MW4", "g": 3, "day": 21.5, "v": 65.58},
      {"s": "MW4", "g": 3, "day": 21.64, "v": 65.54}, {"s": "MW4", "g": 3, "day": 21.87, "v": 65.53}, {"s": "MW4", "g": 3, "day": 22.1, "v": 65.5},
      {"s": "MW4", "g": 3, "day": 22.4, "v": 65.47}, {"s": "MW4", "g": 3, "day": 22.87, "v": 65.46}, {"s": "MW4", "g": 3, "day": 23.34, "v": 65.42},
      {"s": "MW4", "g": 3, "day": 23.81, "v": 65.41}, {"s": "MW4", "g": 3, "day": 24.1, "v": 65.36}, {"s": "MW4", "g": 3, "day": 24.38, "v": 65.34},
      {"s": "MW4", "g": 3, "day": 24.45, "v": 65.36}, {"s": "MW4", "g": 3, "day": 24.6, "v": 65.42}, {"s": "MW4", "g": 3, "day": 24.9, "v": 65.5},
      {"s": "MW4", "g": 3, "day": 25.25, "v": 65.6}, {"s": "MW4", "g": 3, "day": 25.6, "v": 65.72}, {"s": "MW4", "g": 3, "day": 25.95, "v": 65.84},
      {"s": "MW4", "g": 3, "day": 26.2, "v": 65.92}, {"s": "MW4", "g": 3, "day": 26.42, "v": 65.98}, {"s": "MW4", "g": 3, "day": 26.74, "v": 66.02},
      {"s": "MW4", "g": 3, "day": 27.2, "v": 66.07}, {"s": "MW4", "g": 3, "day": 27.8, "v": 66.08}, {"s": "MW4", "g": 3, "day": 28.3, "v": 66.07},
      {"s": "MW4", "g": 3, "day": 28.8, "v": 66.08}, {"s": "MW4", "g": 3, "day": 29.3, "v": 66.06}, {"s": "MW4", "g": 3, "day": 29.8, "v": 66.07},
      {"s": "MW4", "g": 3, "day": 30.2, "v": 66.06}, {"s": "MW4", "g": 3, "day": 30.5, "v": 66.06},

      {"s": "MW5", "g": 1, "day": 1.77, "v": 66.235}, {"s": "MW5", "g": 1, "day": 2.2, "v": 66.233}, {"s": "MW5", "g": 1, "day": 2.5, "v": 66.238},
      {"s": "MW5", "g": 1, "day": 3.0, "v": 66.232}, {"s": "MW5", "g": 1, "day": 3.4, "v": 66.236}, {"s": "MW5", "g": 1, "day": 3.8, "v": 66.234},
      {"s": "MW5", "g": 1, "day": 4.2, "v": 66.24}, {"s": "MW5", "g": 1, "day": 4.5, "v": 66.238}, {"s": "MW5", "g": 1, "day": 4.66, "v": 66.245},
      {"s": "MW5", "g": 2, "day": 4.78, "v": 66.25}, {"s": "MW5", "g": 2, "day": 4.86, "v": 66.27},
      {"s": "MW5", "g": 3, "day": 7.35, "v": 66.38}, {"s": "MW5", "g": 3, "day": 7.45, "v": 66.33}, {"s": "MW5", "g": 3, "day": 7.53, "v": 66.2},
      {"s": "MW5", "g": 3, "day": 7.62, "v": 66.05}, {"s": "MW5", "g": 3, "day": 7.7, "v": 65.93}, {"s": "MW5", "g": 3, "day": 7.74, "v": 65.87},
      {"s": "MW5", "g": 3, "day": 7.77, "v": 66.15}, {"s": "MW5", "g": 3, "day": 7.93, "v": 66.18}, {"s": "MW5", "g": 3, "day": 8.23, "v": 66.19},
      {"s": "MW5", "g": 3, "day": 8.29, "v": 66.18}, {"s": "MW5", "g": 3, "day": 8.32, "v": 65.9}, {"s": "MW5", "g": 3, "day": 8.36, "v": 65.78},
      {"s": "MW5", "g": 3, "day": 8.5, "v": 65.71}, {"s": "MW5", "g": 3, "day": 8.71, "v": 65.62}, {"s": "MW5", "g": 3, "day": 8.9, "v": 65.55},
      {"s": "MW5", "g": 3, "day": 9.05, "v": 65.5}, {"s": "MW5", "g": 3, "day": 9.2, "v": 65.45}, {"s": "MW5", "g": 3, "day": 9.28, "v": 65.42},
      {"s": "MW5", "g": 3, "day": 9.36, "v": 65.46}, {"s": "MW5", "g": 3, "day": 9.45, "v": 65.55}, {"s": "MW5", "g": 3, "day": 9.55, "v": 65.62},
      {"s": "MW5", "g": 3, "day": 9.65, "v": 65.64}, {"s": "MW5", "g": 3, "day": 9.9, "v": 65.59}, {"s": "MW5", "g": 3, "day": 10.2, "v": 65.55},
      {"s": "MW5", "g": 3, "day": 10.69, "v": 65.49}, {"s": "MW5", "g": 3, "day": 11.1, "v": 65.44}, {"s": "MW5", "g": 3, "day": 11.4, "v": 65.39},
      {"s": "MW5", "g": 3, "day": 11.6, "v": 65.33}, {"s": "MW5", "g": 3, "day": 11.8, "v": 65.27}, {"s": "MW5", "g": 3, "day": 12.0, "v": 65.23},
      {"s": "MW5", "g": 3, "day": 12.2, "v": 65.2}, {"s": "MW5", "g": 3, "day": 12.3, "v": 65.19},
      {"s": "MW5", "g": 4, "day": 12.7, "v": 65.4}, {"s": "MW5", "g": 4, "day": 12.8, "v": 65.45}, {"s": "MW5", "g": 4, "day": 13.0, "v": 65.49},
      {"s": "MW5", "g": 4, "day": 13.3, "v": 65.53}, {"s": "MW5", "g": 4, "day": 13.6, "v": 65.55}, {"s": "MW5", "g": 4, "day": 13.9, "v": 65.57},
      {"s": "MW5", "g": 4, "day": 13.95, "v": 65.7}, {"s": "MW5", "g": 4, "day": 14.1, "v": 65.74}, {"s": "MW5", "g": 4, "day": 14.31, "v": 65.77},
      {"s": "MW5", "g": 4, "day": 14.45, "v": 65.79}, {"s": "MW5", "g": 4, "day": 14.55, "v": 65.83}, {"s": "MW5", "g": 4, "day": 14.6, "v": 65.88},
      {"s": "MW5", "g": 4, "day": 14.65, "v": 65.84}, {"s": "MW5", "g": 4, "day": 14.8, "v": 65.82}, {"s": "MW5", "g": 4, "day": 15.02, "v": 65.8},
      {"s": "MW5", "g": 4, "day": 15.5, "v": 65.77}, {"s": "MW5", "g": 4, "day": 16.04, "v": 65.74}, {"s": "MW5", "g": 4, "day": 16.5, "v": 65.71},
      {"s": "MW5", "g": 4, "day": 17.0, "v": 65.67}, {"s": "MW5", "g": 4, "day": 17.4, "v": 65.64}, {"s": "MW5", "g": 4, "day": 17.5, "v": 65.62},
      {"s": "MW5", "g": 4, "day": 18.01, "v": 65.6}, {"s": "MW5", "g": 4, "day": 18.4, "v": 65.57}, {"s": "MW5", "g": 4, "day": 18.5, "v": 65.55},
      {"s": "MW5", "g": 4, "day": 19.03, "v": 65.52}, {"s": "MW5", "g": 4, "day": 19.5, "v": 65.5}, {"s": "MW5", "g": 4, "day": 20.06, "v": 65.47},
      {"s": "MW5", "g": 4, "day": 20.5, "v": 65.45}, {"s": "MW5", "g": 4, "day": 21.0, "v": 65.43}, {"s": "MW5", "g": 4, "day": 21.15, "v": 65.42},
      {"s": "MW5", "g": 4, "day": 21.3, "v": 65.5}, {"s": "MW5", "g": 4, "day": 21.4, "v": 65.38}, {"s": "MW5", "g": 4, "day": 21.6, "v": 65.33},
      {"s": "MW5", "g": 4, "day": 21.9, "v": 65.3}, {"s": "MW5", "g": 4, "day": 22.2, "v": 65.28}, {"s": "MW5", "g": 4, "day": 22.5, "v": 65.27},
      {"s": "MW5", "g": 4, "day": 22.9, "v": 65.26}, {"s": "MW5", "g": 4, "day": 23.2, "v": 65.25}, {"s": "MW5", "g": 4, "day": 23.45, "v": 65.24},
      {"s": "MW5", "g": 5, "day": 23.5, "v": 65.72}, {"s": "MW5", "g": 5, "day": 23.65, "v": 65.73}, {"s": "MW5", "g": 5, "day": 24.0, "v": 65.73},
      {"s": "MW5", "g": 5, "day": 24.3, "v": 65.72}, {"s": "MW5", "g": 5, "day": 24.49, "v": 65.73}, {"s": "MW5", "g": 5, "day": 24.57, "v": 65.81},
      {"s": "MW5", "g": 5, "day": 24.97, "v": 65.86}, {"s": "MW5", "g": 5, "day": 25.2, "v": 65.89}, {"s": "MW5", "g": 5, "day": 25.46, "v": 65.93},
      {"s": "MW5", "g": 5, "day": 25.7, "v": 65.96}, {"s": "MW5", "g": 5, "day": 25.94, "v": 66.0}, {"s": "MW5", "g": 5, "day": 26.1, "v": 66.04},
      {"s": "MW5", "g": 5, "day": 26.26, "v": 66.08}, {"s": "MW5", "g": 5, "day": 26.5, "v": 66.15}, {"s": "MW5", "g": 5, "day": 26.74, "v": 66.21},
      {"s": "MW5", "g": 5, "day": 26.9, "v": 66.22}, {"s": "MW5", "g": 5, "day": 26.98, "v": 66.21}, {"s": "MW5", "g": 5, "day": 27.22, "v": 66.17},
      {"s": "MW5", "g": 5, "day": 27.5, "v": 66.15}, {"s": "MW5", "g": 5, "day": 27.86, "v": 66.14}, {"s": "MW5", "g": 5, "day": 28.3, "v": 66.12},
      {"s": "MW5", "g": 5, "day": 28.7, "v": 66.13}, {"s": "MW5", "g": 5, "day": 29.06, "v": 66.13}, {"s": "MW5", "g": 5, "day": 29.4, "v": 66.14},
      {"s": "MW5", "g": 5, "day": 29.67, "v": 66.15}, {"s": "MW5", "g": 5, "day": 30.0, "v": 66.15}, {"s": "MW5", "g": 5, "day": 30.43, "v": 66.15},

      {"s": "MW6", "g": 1, "day": 1.77, "v": 66.36}, {"s": "MW6", "g": 1, "day": 2.2, "v": 66.36}, {"s": "MW6", "g": 1, "day": 2.5, "v": 66.362},
      {"s": "MW6", "g": 1, "day": 3.0, "v": 66.36}, {"s": "MW6", "g": 1, "day": 3.5, "v": 66.36}, {"s": "MW6", "g": 1, "day": 4.0, "v": 66.362},
      {"s": "MW6", "g": 1, "day": 4.3, "v": 66.37}, {"s": "MW6", "g": 1, "day": 4.4, "v": 66.365}, {"s": "MW6", "g": 1, "day": 4.66, "v": 66.37},
      {"s": "MW6", "g": 2, "day": 4.81, "v": 66.38}, {"s": "MW6", "g": 2, "day": 4.95, "v": 66.39}, {"s": "MW6", "g": 2, "day": 5.05, "v": 66.385},
      {"s": "MW6", "g": 2, "day": 5.2, "v": 66.39}, {"s": "MW6", "g": 2, "day": 5.28, "v": 66.4}, {"s": "MW6", "g": 2, "day": 5.36, "v": 66.44},
      {"s": "MW6", "g": 2, "day": 5.44, "v": 66.49}, {"s": "MW6", "g": 2, "day": 5.52, "v": 66.56}, {"s": "MW6", "g": 2, "day": 5.58, "v": 66.63},
      {"s": "MW6", "g": 2, "day": 5.62, "v": 66.66}, {"s": "MW6", "g": 2, "day": 5.64, "v": 66.63}, {"s": "MW6", "g": 2, "day": 5.68, "v": 66.5},
      {"s": "MW6", "g": 2, "day": 5.74, "v": 66.4}, {"s": "MW6", "g": 2, "day": 5.8, "v": 66.3}, {"s": "MW6", "g": 2, "day": 5.88, "v": 66.21},
      {"s": "MW6", "g": 2, "day": 5.95, "v": 66.14}, {"s": "MW6", "g": 2, "day": 5.98, "v": 66.12},
      {"s": "MW6", "g": 3, "day": 7.4, "v": 66.28}, {"s": "MW6", "g": 3, "day": 7.46, "v": 66.26}, {"s": "MW6", "g": 3, "day": 7.53, "v": 66.18},
      {"s": "MW6", "g": 3, "day": 7.6, "v": 66.08}, {"s": "MW6", "g": 3, "day": 7.66, "v": 65.99}, {"s": "MW6", "g": 3, "day": 7.72, "v": 65.89},
      {"s": "MW6", "g": 3, "day": 7.75, "v": 65.88}, {"s": "MW6", "g": 3, "day": 7.77, "v": 66.16}, {"s": "MW6", "g": 3, "day": 7.82, "v": 66.19},
      {"s": "MW6", "g": 3, "day": 7.93, "v": 66.2}, {"s": "MW6", "g": 3, "day": 8.1, "v": 66.21}, {"s": "MW6", "g": 3, "day": 8.28, "v": 66.21},
      {"s": "MW6", "g": 3, "day": 8.31, "v": 66.0}, {"s": "MW6", "g": 3, "day": 8.33, "v": 65.82}, {"s": "MW6", "g": 3, "day": 8.39, "v": 65.79},
      {"s": "MW6", "g": 3, "day": 8.5, "v": 65.74}, {"s": "MW6", "g": 3, "day": 8.6, "v": 65.7}, {"s": "MW6", "g": 3, "day": 8.71, "v": 65.66},
      {"s": "MW6", "g": 3, "day": 8.85, "v": 65.6}, {"s": "MW6", "g": 3, "day": 9.02, "v": 65.55}, {"s": "MW6", "g": 3, "day": 9.15, "v": 65.5},
      {"s": "MW6", "g": 3, "day": 9.22, "v": 65.48}, {"s": "MW6", "g": 3, "day": 9.28, "v": 65.47}, {"s": "MW6", "g": 3, "day": 9.34, "v": 65.5},
      {"s": "MW6", "g": 3, "day": 9.42, "v": 65.58}, {"s": "MW6", "g": 3, "day": 9.5, "v": 65.64}, {"s": "MW6", "g": 3, "day": 9.6, "v": 65.68},
      {"s": "MW6", "g": 3, "day": 9.7, "v": 65.66}, {"s": "MW6", "g": 3, "day": 9.81, "v": 65.64}, {"s": "MW6", "g": 3, "day": 9.9, "v": 65.62},
      {"s": "MW6", "g": 3, "day": 10.1, "v": 65.58}, {"s": "MW6", "g": 3, "day": 10.3, "v": 65.55}, {"s": "MW6", "g": 3, "day": 10.5, "v": 65.53},
      {"s": "MW6", "g": 3, "day": 10.69, "v": 65.51}, {"s": "MW6", "g": 3, "day": 10.9, "v": 65.48}, {"s": "MW6", "g": 3, "day": 11.1, "v": 65.46},
      {"s": "MW6", "g": 3, "day": 11.3, "v": 65.43}, {"s": "MW6", "g": 3, "day": 11.48, "v": 65.41}, {"s": "MW6", "g": 3, "day": 11.53, "v": 65.62},
      {"s": "MW6", "g": 3, "day": 11.56, "v": 65.4}, {"s": "MW6", "g": 3, "day": 11.6, "v": 65.36}, {"s": "MW6", "g": 3, "day": 11.71, "v": 65.33},
      {"s": "MW6", "g": 3, "day": 11.85, "v": 65.29}, {"s": "MW6", "g": 3, "day": 11.98, "v": 65.25}, {"s": "MW6", "g": 3, "day": 12.1, "v": 65.22},
      {"s": "MW6", "g": 3, "day": 12.27, "v": 65.2}, {"s": "MW6", "g": 3, "day": 12.43, "v": 65.19},
      {"s": "MW6", "g": 4, "day": 12.5, "v": 65.3}, {"s": "MW6", "g": 4, "day": 12.6, "v": 65.36}, {"s": "MW6", "g": 4, "day": 12.74, "v": 65.43},
      {"s": "MW6", "g": 4, "day": 12.9, "v": 65.46}, {"s": "MW6", "g": 4, "day": 13.06, "v": 65.48}, {"s": "MW6", "g": 4, "day": 13.25, "v": 65.5},
      {"s": "MW6", "g": 4, "day": 13.45, "v": 65.51}, {"s": "MW6", "g": 4, "day": 13.7, "v": 65.54}, {"s": "MW6", "g": 4, "day": 14.0, "v": 65.58},
      {"s": "MW6", "g": 4, "day": 14.15, "v": 65.6}, {"s": "MW6", "g": 4, "day": 14.31, "v": 65.62}, {"s": "MW6", "g": 4, "day": 14.42, "v": 65.65},
      {"s": "MW6", "g": 4, "day": 14.5, "v": 65.69}, {"s": "MW6", "g": 4, "day": 14.56, "v": 65.82}, {"s": "MW6", "g": 4, "day": 14.62, "v": 65.9},
      {"s": "MW6", "g": 4, "day": 14.7, "v": 65.88}, {"s": "MW6", "g": 4, "day": 14.85, "v": 65.85}, {"s": "MW6", "g": 4, "day": 15.02, "v": 65.83},
      {"s": "MW6", "g": 4, "day": 15.3, "v": 65.81}, {"s": "MW6", "g": 4, "day": 15.6, "v": 65.79}, {"s": "MW6", "g": 4, "day": 16.04, "v": 65.76},
      {"s": "MW6", "g": 4, "day": 16.5, "v": 65.73}, {"s": "MW6", "g": 4, "day": 16.99, "v": 65.7}, {"s": "MW6", "g": 4, "day": 17.5, "v": 65.66},
      {"s": "MW6", "g": 4, "day": 18.01, "v": 65.63}, {"s": "MW6", "g": 4, "day": 18.5, "v": 65.6}, {"s": "MW6", "g": 4, "day": 19.03, "v": 65.57},
      {"s": "MW6", "g": 4, "day": 19.5, "v": 65.54}, {"s": "MW6", "g": 4, "day": 20.06, "v": 65.51}, {"s": "MW6", "g": 4, "day": 20.5, "v": 65.49},
      {"s": "MW6", "g": 4, "day": 21.0, "v": 65.47}, {"s": "MW6", "g": 4, "day": 21.15, "v": 65.46}, {"s": "MW6", "g": 4, "day": 21.2, "v": 65.6},
      {"s": "MW6", "g": 4, "day": 21.24, "v": 65.69}, {"s": "MW6", "g": 4, "day": 21.28, "v": 65.55}, {"s": "MW6", "g": 4, "day": 21.35, "v": 65.5},
      {"s": "MW6", "g": 4, "day": 21.45, "v": 65.48}, {"s": "MW6", "g": 4, "day": 21.55, "v": 65.44}, {"s": "MW6", "g": 4, "day": 21.69, "v": 65.41},
      {"s": "MW6", "g": 4, "day": 21.93, "v": 65.36}, {"s": "MW6", "g": 4, "day": 22.15, "v": 65.34}, {"s": "MW6", "g": 4, "day": 22.4, "v": 65.32},
      {"s": "MW6", "g": 4, "day": 22.6, "v": 65.29}, {"s": "MW6", "g": 4, "day": 22.77, "v": 65.26}, {"s": "MW6", "g": 4, "day": 22.87, "v": 65.25},
      {"s": "MW6", "g": 4, "day": 23.1, "v": 65.24}, {"s": "MW6", "g": 4, "day": 23.34, "v": 65.23}, {"s": "MW6", "g": 4, "day": 23.55, "v": 65.21},
      {"s": "MW6", "g": 4, "day": 23.81, "v": 65.19}, {"s": "MW6", "g": 4, "day": 24.1, "v": 65.16}, {"s": "MW6", "g": 4, "day": 24.38, "v": 65.15},
      {"s": "MW6", "g": 4, "day": 24.45, "v": 65.15},
      {"s": "MW6", "g": 5, "day": 24.51, "v": 65.3}, {"s": "MW6", "g": 5, "day": 24.6, "v": 65.38}, {"s": "MW6", "g": 5, "day": 24.76, "v": 65.47},
      {"s": "MW6", "g": 5, "day": 24.9, "v": 65.53}, {"s": "MW6", "g": 5, "day": 25.05, "v": 65.58}, {"s": "MW6", "g": 5, "day": 25.13, "v": 65.61},
      {"s": "MW6", "g": 5, "day": 25.3, "v": 65.65}, {"s": "MW6", "g": 5, "day": 25.62, "v": 65.7}, {"s": "MW6", "g": 5, "day": 25.8, "v": 65.74},
      {"s": "MW6", "g": 5, "day": 26.02, "v": 65.79}, {"s": "MW6", "g": 5, "day": 26.2, "v": 65.84}, {"s": "MW6", "g": 5, "day": 26.34, "v": 65.9},
      {"s": "MW6", "g": 5, "day": 26.42, "v": 65.97}, {"s": "MW6", "g": 5, "day": 26.51, "v": 66.03}, {"s": "MW6", "g": 5, "day": 26.6, "v": 66.07},
      {"s": "MW6", "g": 5, "day": 26.75, "v": 66.11}, {"s": "MW6", "g": 5, "day": 26.9, "v": 66.13}, {"s": "MW6", "g": 5, "day": 27.06, "v": 66.15},
      {"s": "MW6", "g": 5, "day": 27.46, "v": 66.16}, {"s": "MW6", "g": 5, "day": 28.0, "v": 66.165}, {"s": "MW6", "g": 5, "day": 28.5, "v": 66.16},
      {"s": "MW6", "g": 5, "day": 29.0, "v": 66.165}, {"s": "MW6", "g": 5, "day": 29.5, "v": 66.16}, {"s": "MW6", "g": 5, "day": 30.26, "v": 66.16},
      {"s": "MW6", "g": 5, "day": 30.9, "v": 66.15}, {"s": "MW6", "g": 5, "day": 31.3, "v": 66.145}, {"s": "MW6", "g": 5, "day": 31.71, "v": 66.14},
      {"s": "MW6", "g": 5, "day": 32.0, "v": 66.13}, {"s": "MW6", "g": 5, "day": 32.23, "v": 66.12}, {"s": "MW6", "g": 5, "day": 32.3, "v": 66.125}
    ],
    "guides": [
      {"day": 5.52, "day2": 5.52, "v": 65.92, "v2": 66.32},
      {"day": 6.56, "day2": 6.56, "v": 65.22, "v2": 65.62},
      {"day": 7.29, "day2": 7.29, "v": 65.22, "v2": 65.6},
      {"day": 7.8, "day2": 7.8, "v": 65.22, "v2": 65.61},
      {"day": 8.34, "day2": 8.34, "v": 65.22, "v2": 65.59},
      {"day": 11.52, "day2": 11.52, "v": 65.0, "v2": 65.41},
      {"day": 11.65, "day2": 11.65, "v": 65.0, "v2": 65.41},
      {"day": 12.38, "day2": 12.38, "v": 65.03, "v2": 65.41},
      {"day": 21.23, "day2": 21.23, "v": 65.05, "v2": 65.42},
      {"day": 21.32, "day2": 21.32, "v": 65.05, "v2": 65.83},
      {"day": 21.43, "day2": 21.43, "v": 65.05, "v2": 65.4},
      {"day": 21.62, "day2": 21.62, "v": 65.05, "v2": 65.38},
      {"day": 22.66, "day2": 22.66, "v": 65.05, "v2": 65.46},
      {"day": 22.85, "day2": 22.85, "v": 65.05, "v2": 65.45},
      {"day": 23.34, "day2": 23.34, "v": 65.05, "v2": 65.44},
      {"day": 23.53, "day2": 23.53, "v": 65.05, "v2": 65.44},
      {"day": 23.86, "day2": 23.86, "v": 65.05, "v2": 65.42},
      {"day": 24.52, "day2": 24.52, "v": 65.04, "v2": 65.42},
      {"day": 5.44, "day2": 6.54, "v": 65.34, "v2": 65.34},
      {"day": 6.56, "day2": 7.29, "v": 65.327, "v2": 65.327},
      {"day": 7.29, "day2": 7.8, "v": 65.415, "v2": 65.415},
      {"day": 7.8, "day2": 8.34, "v": 65.34, "v2": 65.34},
      {"day": 8.36, "day2": 11.4, "v": 65.33, "v2": 65.33},
      {"day": 11.7, "day2": 12.3, "v": 65.109, "v2": 65.109},
      {"day": 12.41, "day2": 21.17, "v": 65.298, "v2": 65.298},
      {"day": 21.64, "day2": 22.73, "v": 65.22, "v2": 65.22},
      {"day": 22.85, "day2": 23.34, "v": 65.226, "v2": 65.226},
      {"day": 23.53, "day2": 23.86, "v": 65.17, "v2": 65.17},
      {"day": 23.88, "day2": 24.52, "v": 65.1, "v2": 65.1},
      {"day": 6.74, "day2": 6.977, "v": 65.175, "v2": 65.298},
      {"day": 7.55, "day2": 7.55, "v": 64.9, "v2": 65.31},
      {"day": 8.277, "day2": 8.04, "v": 65.102, "v2": 65.27},
      {"day": 11.322, "day2": 11.558, "v": 64.92, "v2": 65.058},
      {"day": 12.305, "day2": 12.03, "v": 64.971, "v2": 65.095},
      {"day": 21.514, "day2": 21.514, "v": 64.796, "v2": 65.117},
      {"day": 23.39, "day2": 22.21, "v": 64.82, "v2": 65.11},
      {"day": 22.22, "day2": 22.72, "v": 65.75, "v2": 65.42},
      {"day": 23.12, "day2": 23.11, "v": 65.63, "v2": 65.4},
      {"day": 23.72, "day2": 23.39, "v": 65.52, "v2": 65.41},
      {"day": 24.61, "day2": 23.72, "v": 64.92, "v2": 65.07},
      {"day": 25.89, "day2": 24.19, "v": 65.19, "v2": 65.13}
    ],
    "heads": [
      {"day": 5.44, "v": 65.34, "a": 180}, {"day": 6.54, "v": 65.34, "a": 0},
      {"day": 6.56, "v": 65.327, "a": 180}, {"day": 7.29, "v": 65.327, "a": 0},
      {"day": 7.29, "v": 65.415, "a": 180}, {"day": 7.8, "v": 65.415, "a": 0},
      {"day": 7.8, "v": 65.34, "a": 180}, {"day": 8.34, "v": 65.34, "a": 0},
      {"day": 8.36, "v": 65.33, "a": 180}, {"day": 11.4, "v": 65.33, "a": 0},
      {"day": 11.7, "v": 65.109, "a": 180}, {"day": 12.3, "v": 65.109, "a": 0},
      {"day": 12.41, "v": 65.298, "a": 180}, {"day": 21.17, "v": 65.298, "a": 0},
      {"day": 21.64, "v": 65.22, "a": 180}, {"day": 22.73, "v": 65.22, "a": 0},
      {"day": 22.85, "v": 65.226, "a": 180}, {"day": 23.34, "v": 65.226, "a": 0},
      {"day": 23.53, "v": 65.17, "a": 180}, {"day": 23.86, "v": 65.17, "a": 0},
      {"day": 23.88, "v": 65.1, "a": 180}, {"day": 24.52, "v": 65.1, "a": 0},
      {"day": 6.977, "v": 65.298, "a": -69.3},
      {"day": 7.55, "v": 65.31, "a": -90},
      {"day": 8.04, "v": 65.27, "a": -105.6},
      {"day": 11.558, "v": 65.058, "a": -71.3},
      {"day": 12.03, "v": 65.095, "a": -113.8},
      {"day": 21.514, "v": 65.117, "a": -90},
      {"day": 22.21, "v": 65.11, "a": -128.9},
      {"day": 22.72, "v": 65.42, "a": 73.3},
      {"day": 23.11, "v": 65.4, "a": 90},
      {"day": 23.39, "v": 65.41, "a": 120},
      {"day": 23.72, "v": 65.07, "a": -139.6},
      {"day": 24.19, "v": 65.13, "a": -169.9}
    ],
    "phases": [
      {"day": 1.963, "v": 66.131, "label": "Phase A: Background\nMonitoring"},
      {"day": 4.044, "v": 65.48, "label": "Phase B:\nEquipment Trial"},
      {"day": 4.121, "v": 65.102, "label": "Phase C: Recovery"},
      {"day": 6.388, "v": 64.822, "label": "Phase D: Step Test"},
      {"day": 8.158, "v": 65.012, "label": "Phase E:\nRecovery"},
      {"day": 8.605, "v": 65.245, "label": "Phase F:\nConstant Rate\nTest (a) Q = 22 l/s"},
      {"day": 10.205, "v": 64.85, "label": "Phase G:\nPump Change"},
      {"day": 12.25, "v": 64.903, "label": "Phase H: Constant Rate Test (b) Q = 36 l/s"},
      {"day": 13.526, "v": 65.167, "label": "Phase I: Recharge (a) QT1 = 21 l/s, QT2 = 16 l/s"},
      {"day": 19.522, "v": 65.924, "label": "Phase J: Pump Failure"},
      {"day": 18.838, "v": 64.713, "label": "Phase K: Recharge (b),\nQT1 = 21 l/s. QT2 = 16 l/s"},
      {"day": 23.228, "v": 64.726, "label": "Phase L: Recharge (c),\nQT1 = 11 l/s, QT2 = 11 l/s"},
      {"day": 21.771, "v": 65.786, "label": "Phase M"},
      {"day": 22.567, "v": 65.662, "label": "Phase N"},
      {"day": 23.248, "v": 65.563, "label": "Phase O"},
      {"day": 24.663, "v": 64.869, "label": "Phase P:"},
      {"day": 25.088, "v": 65.233, "label": "Phase Q: Recharging Terminated, Q = 35 l/s"},
      {"day": 27.181, "v": 65.905, "label": "Phase R: Pumping Ceased,\nRecovery"}
    ],
    "notebox": [
      {"day": 25.72, "day2": 32.76, "v": 63.294, "v2": 63.956}
    ],
    "notes": [
      {"day": 25.96, "v": 63.833, "label": "Phase M Recharge (d) QT1 = 1 l/s, QT2 = 2 l/s"},
      {"day": 25.96, "v": 63.697, "label": "Phase N Recharge (e) QT1 = 4 l/s, QT2 = 5 l/s"},
      {"day": 25.96, "v": 63.562, "label": "Phase O Recharge (f) QT1 = 4 l/s, QT2 = 3 l/s"},
      {"day": 25.96, "v": 63.428, "label": "Phase P Recharge (g) QT1 = 4 l/s, QT2 = 4 l/s"}
    ]
  },
  "layer": [
    {
      "data": {"name": "rain"},
      "mark": {"type": "line", "color": "#2276d6", "strokeWidth": 2, "clip": true},
      "encoding": {
        "x": {
          "field": "day", "type": "quantitative",
          "scale": {"domain": [0, 33], "nice": false, "zero": false},
          "axis": {
            "title": "Date",
            "values": [0, 1, 2, 3, 4, 5, 6, 7, 8, 9, 10, 11, 12, 13, 14, 15, 16, 17, 18, 19, 20, 21, 22, 23, 24, 25, 26, 27, 28, 29, 30, 31, 32, 33],
            "labelExpr": "timeFormat(datetime(2014, 10, 17 + datum.value), '%a %-d %b')",
            "labelAngle": 90, "labelAlign": "left", "labelBaseline": "middle",
            "labelFontSize": 14, "tickSize": 5, "labelPadding": 4,
            "grid": true, "gridColor": "black", "gridWidth": 2.5, "gridDash": [6, 7],
            "titleFontSize": 21, "titlePadding": 20, "titleX": 726
          }
        },
        "y": {
          "field": "mm", "type": "quantitative",
          "scale": {"domain": [0, 200], "nice": false, "zero": false},
          "axis": {
            "orient": "right", "title": "Cumulative Rainfall (mm)",
            "values": [0, 50, 100, 150, 200], "grid": false,
            "labelFontSize": 20, "tickSize": 6, "labelPadding": 4,
            "titleFontSize": 20, "titleAngle": 270, "titleBaseline": "top", "titlePadding": 8
          }
        }
      }
    },
    {
      "layer": [
        {
          "data": {"name": "wells"},
          "mark": {"type": "line", "strokeWidth": 1.8, "clip": true},
          "encoding": {
            "x": {"field": "day", "type": "quantitative", "scale": {"domain": [0, 33], "nice": false, "zero": false}},
            "y": {
              "field": "v", "type": "quantitative",
              "scale": {"domain": [63, 67], "nice": false, "zero": false},
              "axis": {
                "title": "Groundwater Level (m AOD)", "values": [63, 64, 65, 66, 67], "format": "d",
                "grid": true, "gridColor": "black", "gridWidth": 2,
                "labelFontSize": 20, "tickSize": 6, "labelPadding": 14,
                "titleFontSize": 20, "titlePadding": 15
              }
            },
            "color": {
              "field": "s", "type": "nominal",
              "scale": {
                "domain": ["AW", "MW1", "MW2", "MW3", "MW4", "MW5", "MW6", "Rainfall"],
                "range": ["#000080", "#ff00ff", "#ff9900", "#00ff00", "#ff99cc", "#00ffff", "#ff0000", "#99ccff"]
              },
              "legend": {
                "title": null, "orient": "none", "legendX": 1131, "legendY": 8,
                "columns": 3, "symbolType": "stroke", "symbolSize": 900, "symbolStrokeWidth": 3,
                "labelFontSize": 14, "labelFont": "Liberation Sans", "labelOffset": 9,
                "columnPadding": 40, "rowPadding": 6, "padding": 11,
                "fillColor": "white", "strokeColor": "black"
              }
            },
            "detail": {"field": "g", "type": "nominal"}
          }
        },
        {
          "data": {"name": "guides"},
          "mark": {"type": "rule", "color": "#339966", "strokeWidth": 2.5},
          "encoding": {
            "x": {"field": "day", "type": "quantitative", "scale": {"domain": [0, 33], "nice": false, "zero": false}},
            "x2": {"field": "day2"},
            "y": {"field": "v", "type": "quantitative", "scale": {"domain": [63, 67], "nice": false, "zero": false}, "title": "Groundwater Level (m AOD)"},
            "y2": {"field": "v2"}
          }
        },
        {
          "data": {"name": "heads"},
          "mark": {"type": "point", "shape": "M -1 -0.5 L 0 0 L -1 0.5", "filled": false, "color": "#339966", "strokeWidth": 2.5, "size": 784, "opacity": 1},
          "encoding": {
            "x": {"field": "day", "type": "quantitative", "scale": {"domain": [0, 33], "nice": false, "zero": false}},
            "y": {"field": "v", "type": "quantitative", "scale": {"domain": [63, 67], "nice": false, "zero": false}, "title": "Groundwater Level (m AOD)"},
            "angle": {"field": "a", "type": "quantitative", "scale": null}
          }
        },
        {
          "data": {"name": "phases"},
          "mark": {"type": "text", "align": "left", "baseline": "alphabetic", "font": "Liberation Sans", "fontWeight": "bold", "fontSize": 13.5, "color": "#339966", "lineBreak": "\n", "lineHeight": 16},
          "encoding": {
            "x": {"field": "day", "type": "quantitative", "scale": {"domain": [0, 33], "nice": false, "zero": false}},
            "y": {"field": "v", "type": "quantitative", "scale": {"domain": [63, 67], "nice": false, "zero": false}, "title": "Groundwater Level (m AOD)"},
            "text": {"field": "label", "type": "nominal"}
          }
        },
        {
          "data": {"name": "notebox"},
          "mark": {"type": "rect", "fill": "white", "stroke": "black", "strokeWidth": 2.5},
          "encoding": {
            "x": {"field": "day", "type": "quantitative", "scale": {"domain": [0, 33], "nice": false, "zero": false}},
            "x2": {"field": "day2"},
            "y": {"field": "v", "type": "quantitative", "scale": {"domain": [63, 67], "nice": false, "zero": false}, "title": "Groundwater Level (m AOD)"},
            "y2": {"field": "v2"}
          }
        },
        {
          "data": {"name": "notes"},
          "mark": {"type": "text", "align": "left", "baseline": "alphabetic", "font": "Liberation Sans", "fontSize": 13.8, "color": "black"},
          "encoding": {
            "x": {"field": "day", "type": "quantitative", "scale": {"domain": [0, 33], "nice": false, "zero": false}},
            "y": {"field": "v", "type": "quantitative", "scale": {"domain": [63, 67], "nice": false, "zero": false}, "title": "Groundwater Level (m AOD)"},
            "text": {"field": "label", "type": "nominal"}
          }
        }
      ]
    }
  ],
  "resolve": {"scale": {"y": "independent"}}
}
